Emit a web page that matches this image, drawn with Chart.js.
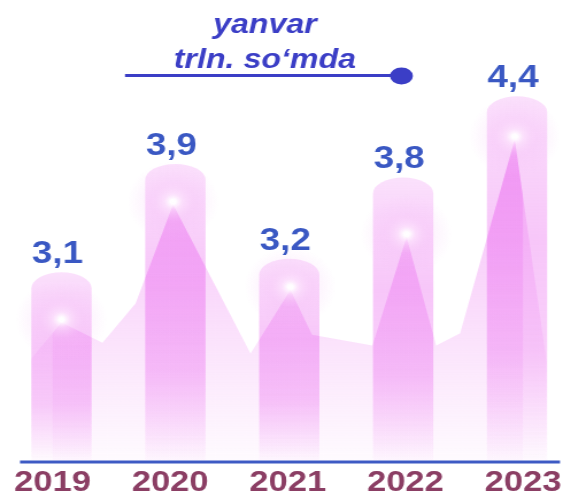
<!DOCTYPE html>
<html><head><meta charset="utf-8">
<script src="https://cdn.jsdelivr.net/npm/chart.js@4.4.1/dist/chart.umd.min.js"></script>
<style>html,body{margin:0;padding:0;background:#fff;overflow:hidden}</style>
</head><body>
<canvas id="c" width="490" height="495" style="display:block;width:563px;height:495px"></canvas>
<script>
// ---- data ----
const categories = ['2019', '2020', '2021', '2022', '2023'];
const values = [3.1, 3.9, 3.2, 3.8, 4.4];
// decorative background area (x in category-index units, y in value units)
const areaX = [-0.28, 0.00, 0.36, 0.65, 0.98, 1.66, 2.01, 2.20, 2.73, 3.03, 3.29, 3.50, 3.98, 4.26];
const areaY = [2.45, 2.73, 2.58, 2.87, 3.60, 2.50, 2.97, 2.64, 2.56, 3.36, 2.56, 2.65, 4.08, 2.44];
const titleLines = ['yanvar', 'trln. so‘mda'];

// ---- scale settings ----
const Y_MIN = 1.7, Y_MAX = 5.11;
const XB_MIN = -0.0787, XB_MAX = 4.0525;

const PINK = [238, 130, 242];
const pink = a => `rgba(${PINK[0]},${PINK[1]},${PINK[2]},${a})`;
const FONT = '"Liberation Sans", Arial, sans-serif';
const TITLE_COLOR = '#3b3ec6';
const VALUE_COLOR = '#3a58c3';
const AXIS_COLOR = '#3d5ac4';

function barPath(ctx, x, y, w, base) {
  const ry = 16, l = x - w / 2, r = x + w / 2;
  ctx.moveTo(l, base);
  ctx.lineTo(l, y + ry);
  ctx.ellipse(x, y + ry, w / 2, ry, 0, Math.PI, 2 * Math.PI);
  ctx.lineTo(r, base);
  ctx.closePath();
}

const decor = {
  id: 'decor',
  afterDatasetsDraw(chart) {
    const ctx = chart.ctx, area = chart.chartArea;
    const lineMeta = chart.getDatasetMeta(0);
    const barMeta = chart.getDatasetMeta(1);
    const bars = barMeta.data.map(b => {
      const p = b.getProps(['x', 'y', 'width', 'base'], true);
      return {x: p.x, y: p.y, w: p.width, base: Math.min(p.base, area.bottom) - 2};
    });
    // bars
    bars.forEach(b => {
      const g = ctx.createLinearGradient(0, b.y, 0, b.base);
      g.addColorStop(0, pink(0.24));
      g.addColorStop(0.12, pink(0.32));
      g.addColorStop(0.4, pink(0.45));
      g.addColorStop(0.7, pink(0.38));
      g.addColorStop(0.93, pink(0.12));
      g.addColorStop(1, pink(0.04));
      ctx.save();
      ctx.beginPath();
      barPath(ctx, b.x, b.y, b.w, b.base);
      ctx.fillStyle = g;
      ctx.fill();
      ctx.restore();
    });
    // stronger area inside the bars
    const pts = lineMeta.data;
    const topY = chart.scales.y.getPixelForValue(Math.max(...areaY));
    ctx.save();
    ctx.beginPath();
    bars.forEach(b => barPath(ctx, b.x, b.y, b.w, b.base));
    ctx.clip();
    const g2 = ctx.createLinearGradient(0, topY, 0, area.bottom);
    g2.addColorStop(0, pink(0.45));
    g2.addColorStop(1, pink(0.0));
    ctx.beginPath();
    ctx.moveTo(pts[0].x, area.bottom);
    pts.forEach(p => ctx.lineTo(p.x, p.y));
    ctx.lineTo(pts[pts.length - 1].x, area.bottom);
    ctx.closePath();
    ctx.fillStyle = g2;
    ctx.fill();
    ctx.restore();
    // glows at the peaks of the area
    pts.forEach((p, i) => {
      if (i === 0 || i === pts.length - 1) return;
      if (!(areaY[i] > areaY[i - 1] && areaY[i] > areaY[i + 1])) return;
      const gx = p.x, gy = p.y - 3, R = 40;
      const rg = ctx.createRadialGradient(gx, gy, 0, gx, gy, R);
      rg.addColorStop(0, 'rgba(255,255,255,1)');
      rg.addColorStop(0.06, 'rgba(255,255,255,0.95)');
      rg.addColorStop(0.2, 'rgba(253,228,253,0.6)');
      rg.addColorStop(0.5, 'rgba(245,190,247,0.22)');
      rg.addColorStop(1, 'rgba(245,190,247,0)');
      ctx.save();
      ctx.fillStyle = rg;
      ctx.beginPath();
      ctx.arc(gx, gy, R, 0, Math.PI * 2);
      ctx.fill();
      ctx.restore();
    });
    // value labels
    ctx.save();
    ctx.fillStyle = VALUE_COLOR;
    ctx.font = 'bold 32px ' + FONT;
    ctx.textAlign = 'center';
    ctx.textBaseline = 'alphabetic';
    bars.forEach((b, i) => {
      ctx.fillText(String(values[i]).replace('.', ','), b.x - 3.5, b.y - 9);
    });
    ctx.restore();
  },
  afterDraw(chart) {
    const ctx = chart.ctx, area = chart.chartArea;
    ctx.save();
    // baseline
    ctx.strokeStyle = AXIS_COLOR;
    ctx.lineWidth = 3;
    ctx.beginPath();
    ctx.moveTo(area.left - 28.3, area.bottom);
    ctx.lineTo(area.right + 32.2, area.bottom);
    ctx.stroke();
    // title
    ctx.fillStyle = TITLE_COLOR;
    ctx.strokeStyle = TITLE_COLOR;
    ctx.textAlign = 'center';
    ctx.textBaseline = 'alphabetic';
    ctx.font = 'italic bold 28px ' + FONT;
    ctx.fillText(titleLines[0], 230.6, 33);
    ctx.fillText(titleLines[1], 230.6, 68);
    ctx.lineWidth = 3;
    ctx.beginPath();
    ctx.moveTo(108.8, 75.5);
    ctx.lineTo(345, 75.5);
    ctx.stroke();
    ctx.beginPath();
    ctx.ellipse(349.4, 76, 10, 8.5, 0, 0, Math.PI * 2);
    ctx.fill();
    ctx.restore();
  }
};

new Chart(document.getElementById('c'), {
  type: 'bar',
  data: {
    labels: categories,
    datasets: [
      {
        type: 'line',
        order: 2,
        xAxisID: 'xb',
        data: areaX.map((x, i) => ({x, y: areaY[i]})),
        fill: 'start',
        borderWidth: 0,
        pointRadius: 0,
        tension: 0,
        clip: false,
        backgroundColor: (c) => {
          const ch = c.chart, a = ch.chartArea;
          if (!a) return pink(0.3);
          const top = ch.scales.y.getPixelForValue(Math.max(...areaY));
          const g = ch.ctx.createLinearGradient(0, top, 0, a.bottom);
          g.addColorStop(0, pink(0.55));
          g.addColorStop(1, pink(0.03));
          return g;
        }
      },
      {
        type: 'bar',
        order: 1,
        xAxisID: 'xb',
        data: values.map((v, i) => ({x: i, y: v})),
        base: Y_MIN,
        barThickness: 52.5,
        backgroundColor: 'rgba(0,0,0,0)',
        borderWidth: 0
      }
    ]
  },
  options: {
    responsive: false,
    devicePixelRatio: 1,
    animation: false,
    layout: {padding: {left: 45.7, right: 34.8, top: 0, bottom: -8}},
    plugins: {legend: {display: false}, tooltip: {enabled: false}, title: {display: false}},
    scales: {
      x: {
        type: 'category',
        offset: false,
        grid: {display: false, drawTicks: false},
        border: {display: false},
        ticks: {
          color: '#8b3e64',
          padding: 0,
          maxRotation: 0,
          autoSkip: false,
          font: {family: FONT, size: 30, weight: 'bold', lineHeight: 1.3667}
        }
      },
      xb: {
        type: 'linear',
        axis: 'x',
        display: false,
        offset: false,
        min: XB_MIN,
        max: XB_MAX
      },
      y: {
        type: 'linear',
        display: false,
        min: Y_MIN,
        max: Y_MAX
      }
    }
  },
  plugins: [decor]
});
</script>
</body></html>
